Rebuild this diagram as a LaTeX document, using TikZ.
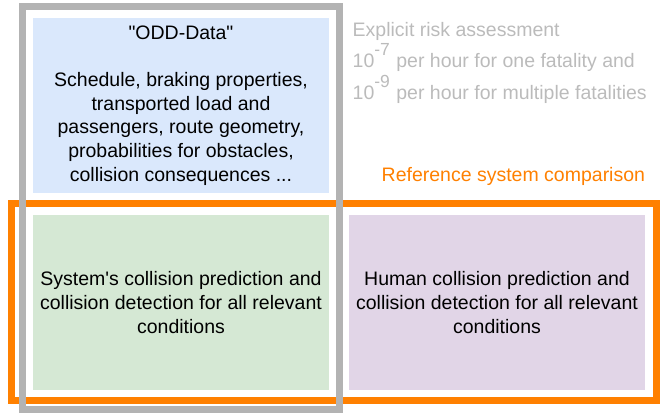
\documentclass[tikz,border=0pt]{standalone}
\usepackage{fontspec}
\setmainfont{Liberation Sans}
\usepackage{xcolor}
\usepackage{tikz}
\definecolor{oddblue}{HTML}{DAE8FC}
\definecolor{sysgreen}{HTML}{D5E8D4}
\definecolor{humanpurple}{HTML}{E1D5E7}
\definecolor{framegray}{HTML}{B3B3B3}
\definecolor{riskgray}{HTML}{BBBBBB}
\definecolor{refline}{HTML}{FF8000}
\newcommand{\expo}[1]{\raisebox{12pt}{\fontsize{17.5}{17.5}\selectfont #1}\hspace{1pt}}

\begin{document}
\begin{tikzpicture}[x=1pt, y=-1pt,
    box/.style={inner sep=0pt, minimum width=296pt, minimum height=175pt, align=center, font=\fontsize{19.5}{23.7}\selectfont},
    plain/.style={inner sep=0pt, anchor=base west, font=\fontsize{19.5}{23.7}\selectfont},
    frame/.style={line width=6.7pt}]
    \useasboundingbox (0,0) rectangle (662,413);
    \node[box, fill=oddblue, minimum height=174.4pt] (odd) at (181,105.5) {\textquotedbl ODD-Data\textquotedbl\\[23.7pt]Schedule, braking properties,\\transported load and\\passengers, route geometry,\\probabilities for obstacles,\\collision consequences ...};
    \node[box, fill=sysgreen] (sys) at (181,302.5) {System\textquotesingle s collision prediction and\\collision detection for all relevant\\conditions};
    \node[box, fill=humanpurple] (human) at (497,302.5) {Human collision prediction and\\collision detection for all relevant\\conditions};
    \node[plain, text=riskgray] (risk1) at (352.5,36) {Explicit risk assessment};
    \node[plain, text=riskgray] (risk2) at (352.5,67.5) {10\expo{-7} per hour for one fatality and};
    \node[plain, text=riskgray] (risk3) at (352.5,99) {10\expo{-9} per hour for multiple fatalities};
    \node[plain, text=refline] (ref) at (381.5,181) {Reference system comparison};
    \draw[frame, refline] (11.3,203.3) rectangle (656.7,400.7);
    \draw[frame, framegray] (22.3,6.3) rectangle (339.3,409.3);
\end{tikzpicture}
\end{document}
